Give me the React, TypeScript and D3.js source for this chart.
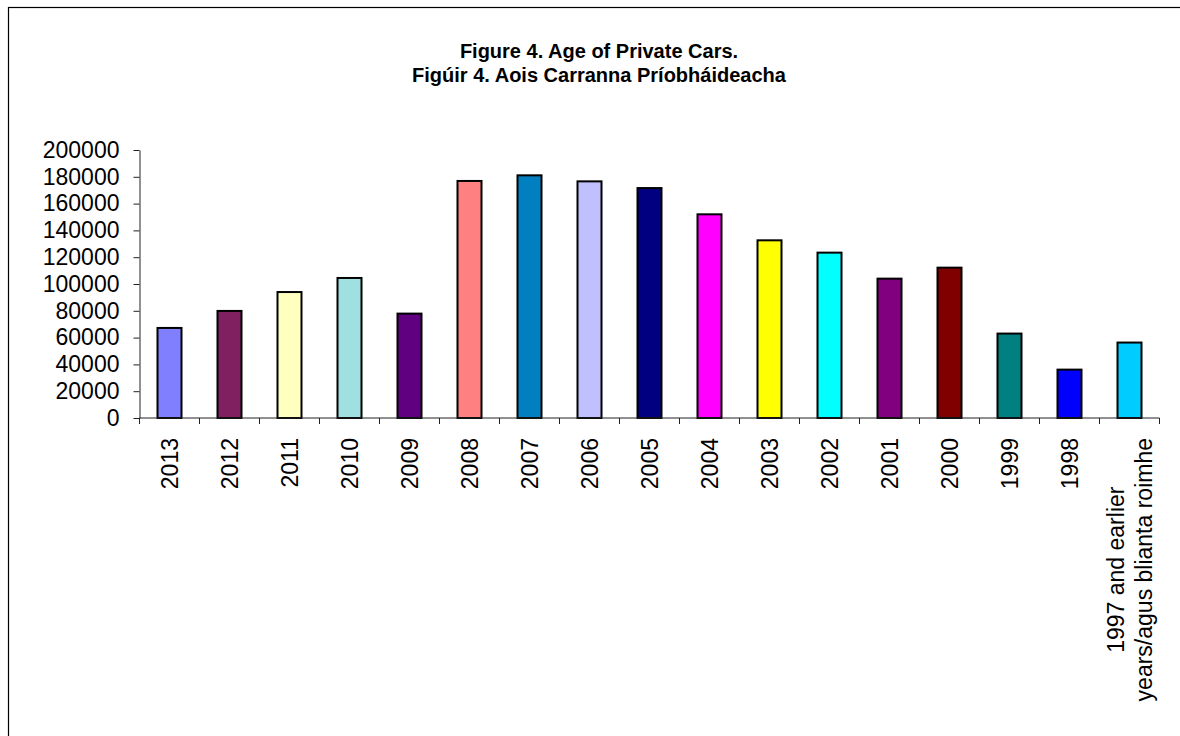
import React, { useEffect, useRef } from 'react';
import { select, scaleBand, scaleLinear, axisLeft } from 'd3';

// Figure 4 - age of private cars (number licensed by year of first registration)
const titleLines = ['Figure 4. Age of Private Cars.', 'Figúir 4. Aois Carranna Príobháideacha'];
const years = ['2013', '2012', '2011', '2010', '2009', '2008', '2007', '2006', '2005', '2004', '2003', '2002', '2001', '2000', '1999', '1998', '1997'];
const yearLabels = [['2013'], ['2012'], ['2011'], ['2010'], ['2009'], ['2008'], ['2007'], ['2006'], ['2005'], ['2004'], ['2003'], ['2002'], ['2001'], ['2000'], ['1999'], ['1998'], ['1997 and earlier', 'years/agus blianta roimhe']];
const cars = [67200, 79900, 94000, 104500, 77900, 176900, 181100, 176600, 171600, 152000, 132600, 123400, 104000, 112200, 63000, 36100, 56300];
const colours = ['#8080FF', '#802060', '#FFFFC0', '#A0E0E0', '#600080', '#FF8080', '#0080C0', '#C0C0FF', '#000080', '#FF00FF', '#FFFF00', '#00FFFF', '#800080', '#800000', '#008080', '#0000FF', '#00CCFF'];
const yTicks = [0, 20000, 40000, 60000, 80000, 100000, 120000, 140000, 160000, 180000, 200000];

const font = '"Liberation Sans", Arial, sans-serif';
const W = 1180, H = 736;
const left = 139.5, right = 1159.5, top = 150, bottom = 418;

export default function App() {
  const svgRef = useRef<SVGSVGElement>(null);

  const x = scaleBand<string>().domain(years).range([left, right]).paddingInner(0.6).paddingOuter(0.3);
  const y = scaleLinear().domain([0, 200000]).range([bottom, top]);
  const step = x.step();
  const edges = years.map((_, i) => left + i * step).concat([right]);

  useEffect(() => {
    const svg = select(svgRef.current);
    const yAxis = axisLeft(y).tickValues(yTicks).tickSize(6).tickSizeOuter(0).tickPadding(14).tickFormat((d) => String(d));
    const g = svg.select<SVGGElement>('.y-axis').attr('transform', `translate(${left},0)`).call(yAxis);
    g.select('.domain').attr('stroke', '#222');
    g.selectAll('.tick line').attr('stroke', '#222');
    g.selectAll('.tick text').attr('fill', '#000').style('font-family', font).style('font-size', '23px');
    g.attr('font-size', null).attr('font-family', null);

    // centre the two-line label like excel does
    svg.selectAll<SVGGElement, unknown>('.multi').each(function () {
      const texts = select(this).selectAll<SVGTextElement, unknown>('text');
      let longest = 0;
      texts.each(function () { longest = Math.max(longest, this.getComputedTextLength()); });
      texts.attr('x', -longest / 2);
    });
  }, []);

  return (
    <svg ref={svgRef} width={W} height={H} style={{ position: 'absolute', left: 0, top: 0, background: '#fff' }}>
      <rect x={8.5} y={7.5} width={W} height={H} fill="none" stroke="#000" strokeWidth={1.2} />
      <g fontFamily={font} fontWeight="bold" fontSize={20} textAnchor="middle">
        {titleLines.map((t, i) => (
          <text key={i} x={599} y={58 + i * 24}>{t}</text>
        ))}
      </g>
      {cars.map((v, i) => (
        <rect key={years[i]} x={x(years[i])} y={y(v)} width={x.bandwidth()} height={y(0) - y(v)}
          fill={colours[i]} stroke="#000" strokeWidth={2} />
      ))}
      <g className="y-axis"></g>
      <g stroke="#222">
        <line x1={left} x2={right} y1={bottom} y2={bottom} />
        {edges.map((e, i) => (
          <line key={i} x1={e} x2={e} y1={bottom} y2={bottom + 6} />
        ))}
      </g>
      <g fontFamily={font} fontSize={23}>
        {yearLabels.map((lines, i) => {
          const cx = (x(years[i]) as number) + x.bandwidth() / 2;
          if (lines.length === 1) {
            return (
              <text key={i} transform={`translate(${cx},438) rotate(-90)`} textAnchor="end" dy="0.35em">{lines[0]}</text>
            );
          }
          return (
            <g key={i} className="multi" transform={`translate(${cx},438) rotate(-90)`}>
              {lines.map((l, j) => (
                <text key={j} textAnchor="middle" y={(j - (lines.length - 1) / 2) * 28} dy="0.35em">{l}</text>
              ))}
            </g>
          );
        })}
      </g>
    </svg>
  );
}
